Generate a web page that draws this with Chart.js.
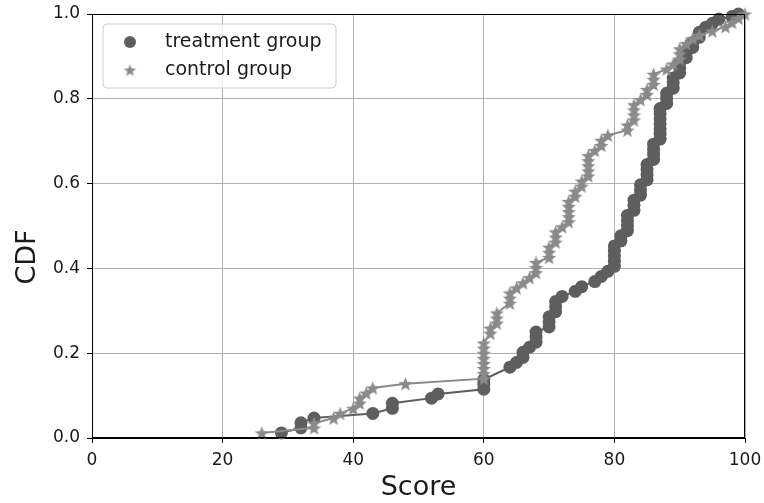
<!DOCTYPE html>
<html>
<head>
<meta charset="utf-8">
<script src="https://cdn.jsdelivr.net/npm/chart.js@4/dist/chart.umd.min.js"></script>
<style>
  html, body { margin: 0; padding: 0; background: #fff; }
  #wrap { position: relative; width: 764px; height: 503px; }
</style>
</head>
<body>
<div id="wrap"><canvas id="c" width="764" height="503"></canvas></div>
<script>
// ---- data ----
const xTicks = [0, 20, 40, 60, 80, 100];
const yTicks = [0.0, 0.2, 0.4, 0.6, 0.8, 1.0];

const treatmentLabel = "treatment group";
const treatmentScore = [29,32,32,34,43,46,46,52,53,60,60,60,64,65,66,66,67,68,68,68,70,70,70,71,71,71,72,74,75,77,78,79,80,80,80,80,80,81,81,82,82,82,82,83,83,83,84,84,84,85,85,85,85,86,86,86,86,87,87,87,87,87,87,87,88,88,88,89,89,89,90,90,90,91,91,92,92,93,93,94,95,96,98,99];
const treatmentCdf = [0.012,0.024,0.036,0.047,0.058,0.070,0.082,0.094,0.104,0.115,0.127,0.138,0.167,0.178,0.190,0.202,0.214,0.226,0.238,0.250,0.262,0.274,0.286,0.298,0.310,0.322,0.334,0.346,0.357,0.369,0.381,0.393,0.405,0.417,0.429,0.441,0.453,0.465,0.477,0.489,0.501,0.513,0.525,0.537,0.549,0.561,0.573,0.585,0.597,0.609,0.621,0.633,0.645,0.657,0.669,0.681,0.693,0.705,0.717,0.729,0.741,0.753,0.765,0.777,0.789,0.801,0.813,0.825,0.837,0.849,0.861,0.873,0.885,0.897,0.909,0.921,0.933,0.945,0.957,0.969,0.978,0.988,0.994,1.0];

const controlLabel = "control group";
const controlScore = [26,34,34,37,38,40,41,41,42,43,48,60,60,60,60,60,60,60,60,61,61,62,62,62,64,64,64,65,66,67,68,68,68,70,70,70,71,71,71,72,73,73,73,73,73,74,74,75,75,76,76,76,76,76,77,78,78,79,82,82,83,83,83,83,84,85,85,86,86,86,88,89,90,90,90,91,92,93,95,97,98,99,100];
const controlCdf = [0.012,0.024,0.035,0.047,0.058,0.070,0.082,0.094,0.106,0.118,0.128,0.140,0.152,0.164,0.176,0.188,0.200,0.212,0.224,0.247,0.259,0.271,0.283,0.295,0.318,0.330,0.342,0.354,0.366,0.378,0.390,0.402,0.414,0.426,0.438,0.450,0.462,0.474,0.486,0.498,0.510,0.522,0.534,0.546,0.558,0.570,0.582,0.594,0.606,0.618,0.630,0.642,0.654,0.666,0.678,0.690,0.702,0.714,0.726,0.738,0.750,0.762,0.774,0.786,0.798,0.810,0.822,0.834,0.846,0.858,0.870,0.882,0.894,0.906,0.918,0.930,0.942,0.950,0.960,0.970,0.980,0.990,1.0];

const xTitle = "Score";
const yTitle = "CDF";

// ---- styles ----
const treatColor = "#5e5e5e";
const ctrlColor = "#8a8a8a";
const FONT = "'DejaVu Sans', sans-serif";

function makeStar(color, R) {
  const size = Math.ceil(R * 2 + 2);
  const cv = document.createElement('canvas');
  cv.width = size; cv.height = size;
  const g = cv.getContext('2d');
  const cx = size / 2, cy = size / 2 + 0.8;
  const r = R * 0.42;
  g.beginPath();
  for (let i = 0; i < 10; i++) {
    const ang = -Math.PI / 2 + i * Math.PI / 5;
    const rad = i % 2 === 0 ? R : r;
    const px = cx + rad * Math.cos(ang), py = cy + rad * Math.sin(ang);
    if (i === 0) g.moveTo(px, py); else g.lineTo(px, py);
  }
  g.closePath();
  g.fillStyle = color;
  g.fill();
  return cv;
}
const starImg = makeStar(ctrlColor, 7.5);
const starLegend = makeStar(ctrlColor, 6.5);

function toPoints(xs, ys) { return xs.map((x, i) => ({ x: x, y: ys[i] })); }

const framePlugin = {
  id: 'frame',
  afterDatasetsDraw(chart) {
    const { ctx, chartArea: a } = chart;
    ctx.save();
    ctx.strokeStyle = '#000';
    ctx.lineWidth = 1;
    ctx.strokeRect(Math.round(a.left) + 0.5, Math.round(a.top) + 0.5, Math.round(a.right - a.left) - 1, Math.round(a.bottom - a.top) - 1);
    ctx.restore();
  },
  afterDraw(chart) {
    const { ctx } = chart;
    const bx = 103, by = 24, bw = 233, bh = 64, rr = 4;
    ctx.save();
    ctx.beginPath();
    ctx.moveTo(bx + rr, by);
    ctx.arcTo(bx + bw, by, bx + bw, by + bh, rr);
    ctx.arcTo(bx + bw, by + bh, bx, by + bh, rr);
    ctx.arcTo(bx, by + bh, bx, by, rr);
    ctx.arcTo(bx, by, bx + bw, by, rr);
    ctx.closePath();
    ctx.fillStyle = 'rgba(255,255,255,0.8)';
    ctx.fill();
    ctx.strokeStyle = '#d0d0d0';
    ctx.lineWidth = 1;
    ctx.stroke();
    ctx.fillStyle = treatColor;
    ctx.beginPath();
    ctx.arc(130, 42, 6, 0, Math.PI * 2);
    ctx.fill();
    ctx.drawImage(starLegend, 130 - starLegend.width / 2, 70 - starLegend.height / 2);
    ctx.fillStyle = '#1a1a1a';
    ctx.font = "19px " + FONT;
    ctx.textBaseline = 'middle';
    ctx.textAlign = 'left';
    ctx.fillText(treatmentLabel, 165, 42);
    ctx.fillText(controlLabel, 165, 70);
    // y axis title
    ctx.save();
    ctx.translate(28, 257);
    ctx.rotate(-Math.PI / 2);
    ctx.textAlign = 'center';
    ctx.textBaseline = 'middle';
    ctx.font = "27px " + FONT;
    ctx.fillText(yTitle, 0, 0);
    ctx.restore();
    ctx.restore();
  }
};

new Chart(document.getElementById('c'), {
  type: 'scatter',
  data: {
    datasets: [
      {
        label: controlLabel,
        data: toPoints(controlScore, controlCdf),
        showLine: true,
        borderColor: ctrlColor,
        backgroundColor: ctrlColor,
        borderWidth: 2,
        pointStyle: starImg,
        pointRadius: 7,
        tension: 0,
        order: 0,
        clip: false
      },
      {
        label: treatmentLabel,
        data: toPoints(treatmentScore, treatmentCdf),
        showLine: true,
        borderColor: treatColor,
        backgroundColor: treatColor,
        borderWidth: 2,
        pointStyle: 'circle',
        pointRadius: 6.5,
        pointBorderWidth: 0,
        tension: 0,
        order: 1,
        clip: false
      }
    ]
  },
  options: {
    responsive: false,
    animation: false,
    events: [],
    layout: { padding: { top: 14, right: 19, left: 0, bottom: 0 } },
    plugins: { legend: { display: false }, tooltip: { enabled: false } },
    scales: {
      x: {
        type: 'linear',
        min: 0, max: 100,
        afterBuildTicks(s) { s.ticks = xTicks.map(v => ({ value: v })); },
        afterFit(s) { s.height = 65; s.paddingLeft = 0; s.paddingRight = 0; },
        grid: { color: '#b0b0b0', lineWidth: 1, tickLength: 5, tickColor: '#000', drawTicks: true },
        border: { color: '#000', width: 1 },
        ticks: { color: '#1a1a1a', font: { family: FONT, size: 17 }, padding: 7, maxRotation: 0,
                 callback: v => String(v) },
        title: { display: true, text: xTitle, color: '#1a1a1a', font: { family: FONT, size: 27 }, padding: { top: 0, bottom: -1 } }
      },
      y: {
        type: 'linear',
        min: 0, max: 1,
        afterBuildTicks(s) { s.ticks = yTicks.map(v => ({ value: v })); },
        afterFit(s) { s.width = 92; s.paddingTop = 0; s.paddingBottom = 0; },
        grid: { color: '#b0b0b0', lineWidth: 1, tickLength: 5, tickColor: '#000', drawTicks: true },
        border: { color: '#000', width: 1 },
        ticks: { color: '#1a1a1a', font: { family: FONT, size: 17 }, padding: 7,
                 callback: v => Number(v).toFixed(1) },
        title: { display: false, text: yTitle }
      }
    }
  },
  plugins: [framePlugin]
});
</script>
</body>
</html>
